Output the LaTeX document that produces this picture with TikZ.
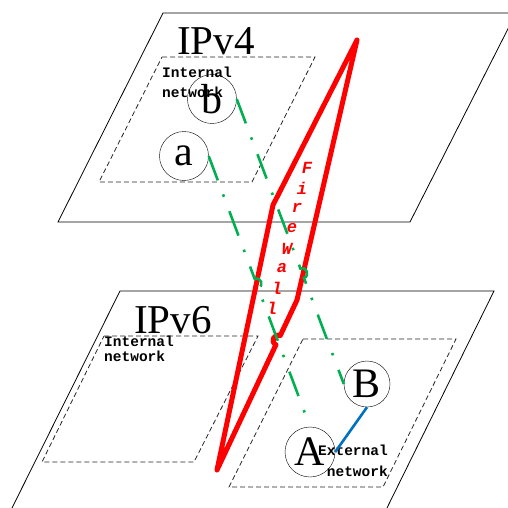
\documentclass[tikz,border=0pt]{standalone}
\usepackage{fontspec}
\setmainfont{Liberation Serif}
\newfontfamily\labelfont{Liberation Mono}
\usetikzlibrary{calc}
\definecolor{FwRed}{HTML}{FF0000}
\definecolor{LinkGreen}{HTML}{00B050}
\definecolor{LinkBlue}{HTML}{0070C0}
\definecolor{DashGray}{HTML}{262626}

\begin{document}
\begin{tikzpicture}[x=1pt, y=-1pt,
  plane/.style={draw=black, line width=.8pt},
  subnet/.style={draw=DashGray, dash pattern=on 5pt off 3pt, line width=.8pt},
  host/.style={draw=black, circle, inner sep=0pt, minimum size=#1, font=\fontsize{42}{42}\selectfont},
  netlabel/.style={font=\labelfont\bfseries\fontsize{14.5}{#1}\selectfont, inner sep=0pt},
  layer/.style={font=\fontsize{41}{41}\selectfont, inner sep=0pt},
  wall/.style={draw=FwRed, line width=5pt, line join=round},
  wallchar/.style={text=FwRed, font=\labelfont\bfseries\itshape\fontsize{17}{17}\selectfont, inner sep=0pt},
  link/.style={draw=LinkGreen, line width=2.6pt, dash pattern=on 26pt off 15pt on 2.5pt off 15.5pt},
  direct/.style={draw=LinkBlue, line width=2.6pt}]
\useasboundingbox (0,0) rectangle (507,508);

% the two layers and their networks
\draw[plane] (163,13) -- (516,13) -- (410,222) -- (58,222) -- cycle;
\draw[plane] (120,291) -- (494,291) -- (384,514) -- (9,514) -- cycle;
\draw[subnet] (162,57) -- (315,57) -- (252,182) -- (99,182) -- cycle;
\draw[subnet] (104,336) -- (258,336) -- (194,462) -- (42,462) -- cycle;
\draw[subnet] (303,339) -- (456,339) -- (383,487) -- (229,487) -- cycle;

\node[layer, anchor=base west] (v4) at (177,55) {IPv4};
\node[layer, anchor=base west] (v6) at (134,333) {IPv6};
\node[netlabel=20pt, anchor=north west, align=left] (in4) at (162,67) {Internal\\network};
\node[netlabel=15pt, anchor=north west, align=left] (in6) at (104,336) {Internal\\network};
\node[netlabel=21pt, anchor=north east, align=right] (ext) at (388,445) {External\\network};

% hosts
\node[host=49pt] (a) at (184,156) {a};
\node[host=49pt] (b) at (212,99) {b};
\node[host=50pt] (A) at (310,452) {A};
\node[host=46pt] (B) at (367,384) {B};

% firewall
\coordinate (fwTop) at (357,40);
\coordinate (fwL) at (273,205);
\coordinate (fwBot) at (217,470);
\coordinate (fwR) at (297,300);
\draw[wall] (fwTop) -- (fwL) -- (fwBot) -- ($(fwBot)!0.737!(fwR)$)
  .. controls ($(fwBot)!0.737!(fwR)!6.7pt!90:(fwR)$) and ($(fwBot)!0.79!(fwR)!6.7pt!90:(fwR)$)
  .. ($(fwBot)!0.79!(fwR)$) -- (fwR) -- cycle;
\foreach \ch [count=\i from 0] in {F,i,r,e,W,a,l,l}
  \node[wallchar] (fw\i) at ({307-5*\i},{168+20.1*\i}) {\ch};

% links
\draw[link] (b.east) -- ($(b.east)!0.595!(B.west)$)
  .. controls ($(b.east)!0.595!(B.west)!6.7pt!90:(B.west)$) and ($(b.east)!0.628!(B.west)!6.7pt!90:(B.west)$)
  .. ($(b.east)!0.628!(B.west)$) -- (B.west);
\draw[link] (a.east) -- ($(a.east)!0.454!(A.north)$)
  .. controls ($(a.east)!0.454!(A.north)!6.7pt!90:(A.north)$) and ($(a.east)!0.488!(A.north)!6.7pt!90:(A.north)$)
  .. ($(a.east)!0.488!(A.north)$) -- (A.north);
\draw[direct] (B.south) -- (A.east);
\end{tikzpicture}
\end{document}
